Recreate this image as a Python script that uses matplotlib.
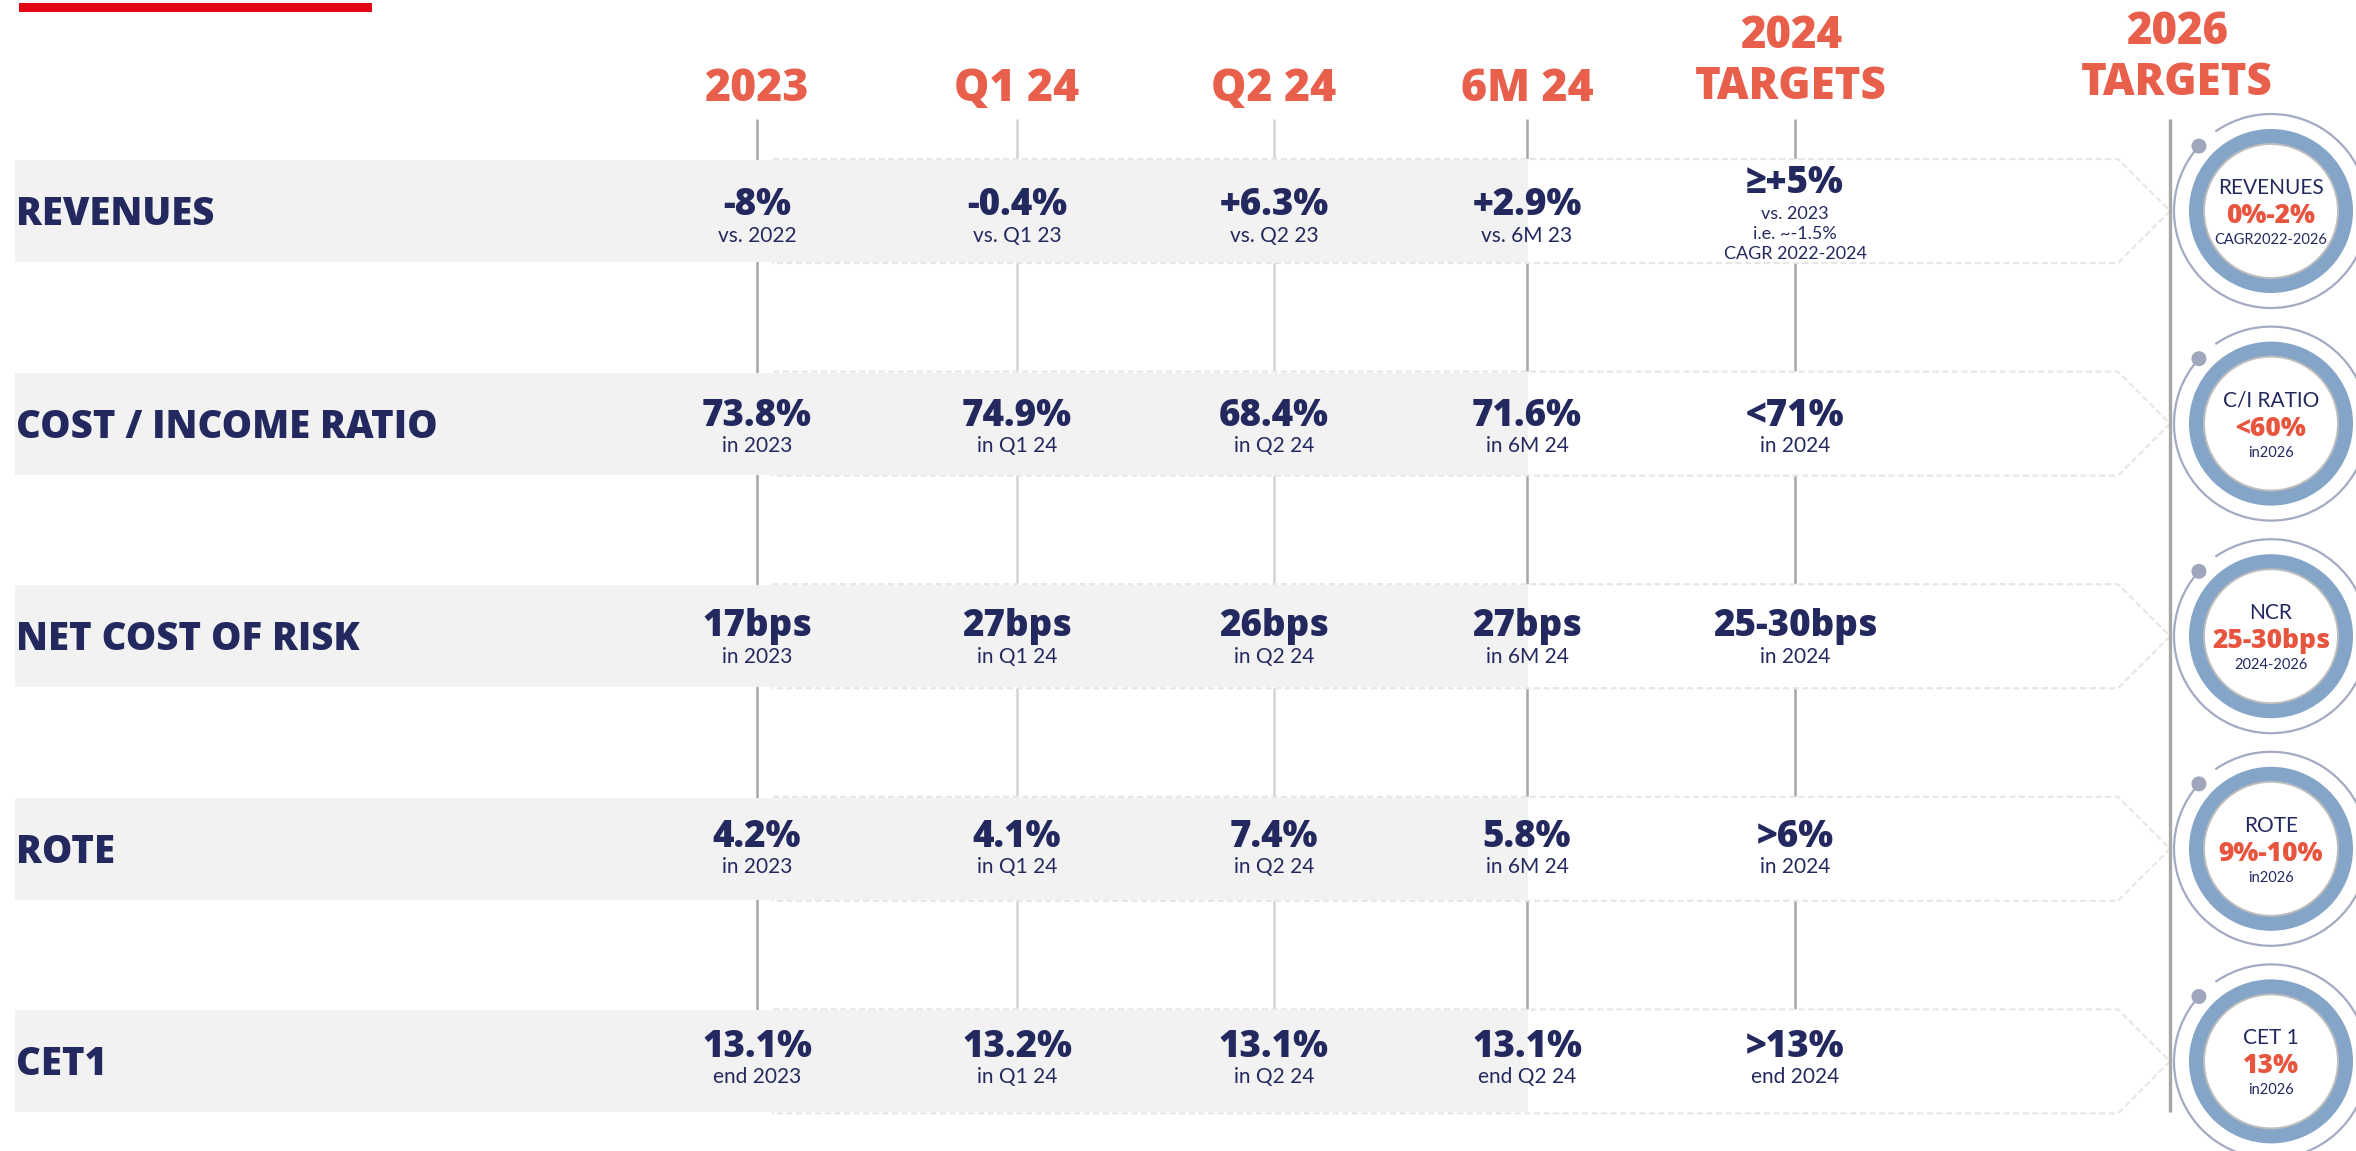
import matplotlib
matplotlib.use("Agg")
import matplotlib.pyplot as plt
from matplotlib import patches

# column headers and row names
columns = ["2023", "Q1 24", "Q2 24", "6M 24"]
metrics = ["REVENUES", "COST / INCOME RATIO", "NET COST OF RISK", "ROTE", "CET1"]

# reported figures, one list per metric
revenues = ["-8%", "-0.4%", "+6.3%", "+2.9%"]
revenues_ref = ["vs. 2022", "vs. Q1 23", "vs. Q2 23", "vs. 6M 23"]
cost_income = ["73.8%", "74.9%", "68.4%", "71.6%"]
cost_income_ref = ["in 2023", "in Q1 24", "in Q2 24", "in 6M 24"]
cost_of_risk = ["17bps", "27bps", "26bps", "27bps"]
cost_of_risk_ref = ["in 2023", "in Q1 24", "in Q2 24", "in 6M 24"]
rote = ["4.2%", "4.1%", "7.4%", "5.8%"]
rote_ref = ["in 2023", "in Q1 24", "in Q2 24", "in 6M 24"]
cet1 = ["13.1%", "13.2%", "13.1%", "13.1%"]
cet1_ref = ["end 2023", "in Q1 24", "in Q2 24", "end Q2 24"]

# targets
targets_2024 = ["\u2265+5%", "<71%", "25-30bps", ">6%", ">13%"]
targets_2024_note = [["vs. 2023", "i.e. ~-1.5%", "CAGR 2022-2024"],
                     ["in 2024"], ["in 2024"], ["in 2024"], ["end 2024"]]
targets_2026_name = ["REVENUES", "C/I RATIO", "NCR", "ROTE", "CET 1"]
targets_2026 = ["0%-2%", "<60%", "25-30bps", "9%-10%", "13%"]
targets_2026_note = ["CAGR2022-2026", "in2026", "2024-2026", "in2026", "in2026"]

values = [revenues, cost_income, cost_of_risk, rote, cet1]
refs = [revenues_ref, cost_income_ref, cost_of_risk_ref, rote_ref, cet1_ref]

NAVY = "#23295E"
CORAL = "#E8604C"
RED = "#E8553F"
W, H = 2356, 1151

fig = plt.figure(figsize=(W / 100, H / 100), dpi=100)
ax = fig.add_axes([0, 0, 1, 1])
ax.set_xlim(0, W)
ax.set_ylim(H, 0)
ax.axis("off")

HEAD = ["Open Sans", "DejaVu Sans"]
BODY = ["Lato", "DejaVu Sans"]

col_x = [757, 1017, 1274, 1527]
tgt_x = 1795
sep_x = 2170
circ_x = 2271
row_c = [211 + 212.6 * i for i in range(len(metrics))]
half = 51

# top red bar
ax.add_patch(patches.Rectangle((19, 3), 353, 9, color="#E30613", lw=0))

# headers
for x, c in zip(col_x, columns):
    ax.text(x, 101, c, ha="center", va="baseline", fontsize=32, fontweight="heavy",
            color=CORAL, family=HEAD)
for x, y0, yr in [(1791, 48, "2024"), (2177, 44, "2026")]:
    ax.text(x, y0, yr, ha="center", va="baseline", fontsize=31.5, fontweight="heavy",
            color=CORAL, family=HEAD)
    ax.text(x, y0 + 51, "TARGETS", ha="center", va="baseline", fontsize=31.5,
            fontweight="heavy", color=CORAL, family=HEAD)

# vertical column lines
line_cols = ["#A6A6A6", "#D4D4D4", "#D4D4D4", "#A6A6A6", "#A6A6A6"]
for x, lc in zip(col_x + [tgt_x], line_cols):
    ax.plot([x, x], [119, row_c[-1] - half], color=lc, lw=1.8, zorder=1,
            solid_capstyle="butt")
ax.plot([sep_x, sep_x], [119, row_c[-1] + half], color="#A6A6A6", lw=2.4, zorder=4,
        solid_capstyle="butt")

for i, cy in enumerate(row_c):
    top, bot = cy - half, cy + half
    # dashed arrow outline
    arrow = patches.Polygon([(773, top - 1), (2118, top - 1), (sep_x, cy),
                             (2118, bot + 1), (773, bot + 1)], closed=True,
                            facecolor="white", edgecolor="#E6E6E6", lw=1.5,
                            linestyle=(0, (3, 1.6)), zorder=2)
    ax.add_patch(arrow)
    # grey band
    ax.add_patch(patches.Rectangle((15, top), 1513, 2 * half, color="#F2F2F2",
                                   lw=0, zorder=3))
    ax.text(16, cy + 14, metrics[i], ha="left", va="baseline", fontsize=27.5,
            fontweight="heavy", color=NAVY, family=HEAD, zorder=5)

    vb = 215 + 210.5 * i
    sb = 242 + 210.3 * i
    for x, v, r in zip(col_x, values[i], refs[i]):
        ax.text(x, vb, v, ha="center", va="baseline", fontsize=26.5, fontweight="heavy",
                color=NAVY, family=HEAD, zorder=5)
        ax.text(x, sb, r, ha="center", va="baseline", fontsize=15,
                color=NAVY, family=BODY, zorder=5)

    # 2024 targets
    notes = targets_2024_note[i]
    if len(notes) == 1:
        ax.text(tgt_x, vb, targets_2024[i], ha="center", va="baseline", fontsize=26.5,
                fontweight="heavy", color=NAVY, family=HEAD, zorder=5)
        ax.text(tgt_x, sb, notes[0], ha="center", va="baseline", fontsize=15,
                color=NAVY, family=BODY, zorder=5)
    else:
        ax.text(tgt_x, vb - 22, targets_2024[i], ha="center", va="baseline", fontsize=26.5,
                fontweight="heavy", color=NAVY, family=HEAD, zorder=5)
        for k, n in enumerate(notes):
            ax.text(tgt_x, vb + 4 + 20 * k, n, ha="center", va="baseline",
                    fontsize=13, color=NAVY, family=BODY, zorder=5)

    # 2026 target badge
    ax.add_patch(patches.Arc((circ_x, cy), 194, 194, theta1=235, theta2=222,
                             color="#A3AAC1", lw=1.6, zorder=4))
    ax.add_patch(patches.Circle((circ_x - 97 * 0.743, cy - 97 * 0.669), 7.5,
                                color="#A0A6BC", lw=0, zorder=4))
    ax.add_patch(patches.Wedge((circ_x, cy), 82, 0, 360, width=15,
                               color="#84A5C8", lw=0, zorder=4))
    ax.add_patch(patches.Circle((circ_x, cy), 67, facecolor="white",
                                edgecolor="#BDBDBD", lw=1.4, zorder=4))
    ax.text(circ_x, cy - 17, targets_2026_name[i], ha="center", va="baseline",
            fontsize=15, color=NAVY, family=BODY, zorder=5)
    ax.text(circ_x, cy + 12, targets_2026[i], ha="center", va="baseline",
            fontsize=19, fontweight="heavy", color=RED, family=HEAD, zorder=5)
    ax.text(circ_x, cy + 33, targets_2026_note[i], ha="center", va="baseline",
            fontsize=10.5, color=NAVY, family=BODY, zorder=5)

fig.savefig("out.png", dpi=100)
